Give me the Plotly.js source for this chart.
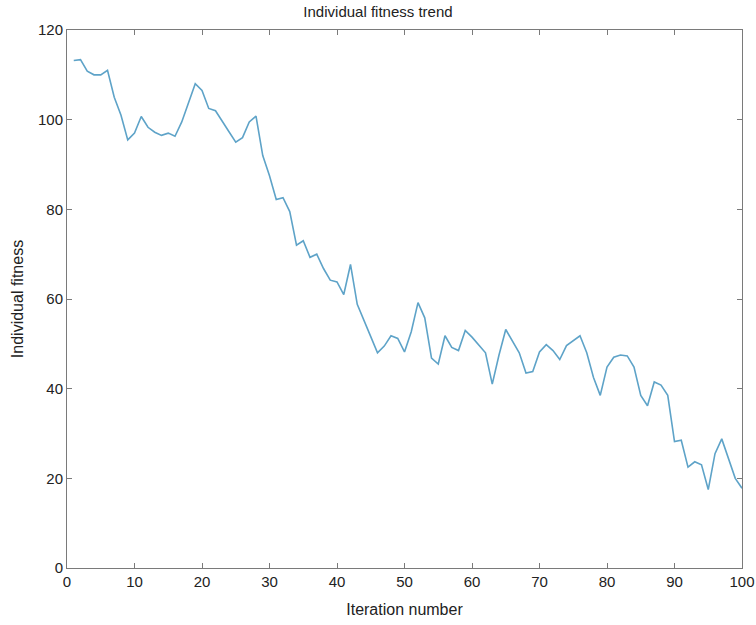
<!DOCTYPE html>
<html>
<head>
<meta charset="utf-8">
<script src="https://cdn.plot.ly/plotly-3.0.1.min.js"></script>
<style>html,body{margin:0;padding:0;background:#fff;}#chart{width:756px;height:625px;}</style>
</head>
<body>
<div id="chart"></div>
<script>
const iterations = Array.from({length: 100}, (_, i) => i + 1);
const fitness = [
  113.2, 113.4, 110.8, 110.0, 110.0, 111.0, 105.0, 101.0, 95.5, 97.0,
  100.7, 98.3, 97.2, 96.5, 97.0, 96.3, 99.5, 104.0, 108.0, 106.5,
  102.5, 102.0, 99.5, 97.3, 95.0, 96.0, 99.5, 100.8, 92.0, 87.5,
  82.2, 82.6, 79.5, 72.0, 73.0, 69.3, 70.0, 66.8, 64.2, 63.8,
  61.0, 67.7, 58.8, 55.0, 51.6, 48.0, 49.5, 51.8, 51.2, 48.2,
  52.7, 59.2, 55.8, 46.8, 45.5, 51.8, 49.2, 48.5, 53.0, 51.5,
  49.8, 48.0, 41.0, 47.5, 53.2, 50.7, 48.0, 43.5, 43.8, 48.2,
  49.8, 48.5, 46.5, 49.6, 50.7, 51.8, 48.0, 42.5, 38.5, 44.8,
  47.0, 47.5, 47.3, 44.8, 38.5, 36.2, 41.5, 40.8, 38.5, 28.2,
  28.5, 22.5, 23.7, 23.0, 17.5, 25.5, 28.8, 24.5, 20.0, 17.8
];
const xTicks = [0, 10, 20, 30, 40, 50, 60, 70, 80, 90, 100];
const yTicks = [0, 20, 40, 60, 80, 100, 120];

const axisCommon = {
  showgrid: false, zeroline: false, showline: true, linecolor: '#7a7a7a', linewidth: 1,
  mirror: 'ticks', ticks: 'inside', ticklen: 5, tickcolor: '#7a7a7a',
  tickfont: {family: 'Liberation Sans, Arial, sans-serif', size: 15, color: '#222'}
};

Plotly.newPlot('chart', [{
  x: iterations, y: fitness, type: 'scatter', mode: 'lines',
  line: {color: '#5ea3c8', width: 1.6}
}], {
  width: 756, height: 625,
  margin: {l: 67, r: 14, t: 30, b: 57},
  paper_bgcolor: '#fff', plot_bgcolor: '#fff',
  showlegend: false,
  title: {text: 'Individual fitness trend', x: 0.5, xanchor: 'center', y: 0.982, yanchor: 'middle',
          font: {family: 'Liberation Sans, Arial, sans-serif', size: 15, color: '#222'}},
  xaxis: Object.assign({}, axisCommon, {range: [0, 100], tickvals: xTicks, ticktext: xTicks.map(String),
    title: {text: 'Iteration number', standoff: 14, font: {family: 'Liberation Sans, Arial, sans-serif', size: 16, color: '#222'}}}),
  yaxis: Object.assign({}, axisCommon, {range: [0, 120], tickvals: yTicks, ticktext: yTicks.map(String),
    title: {text: 'Individual fitness', standoff: 10, font: {family: 'Liberation Sans, Arial, sans-serif', size: 16, color: '#222'}}})
}, {displayModeBar: false, staticPlot: true});
</script>
</body>
</html>
